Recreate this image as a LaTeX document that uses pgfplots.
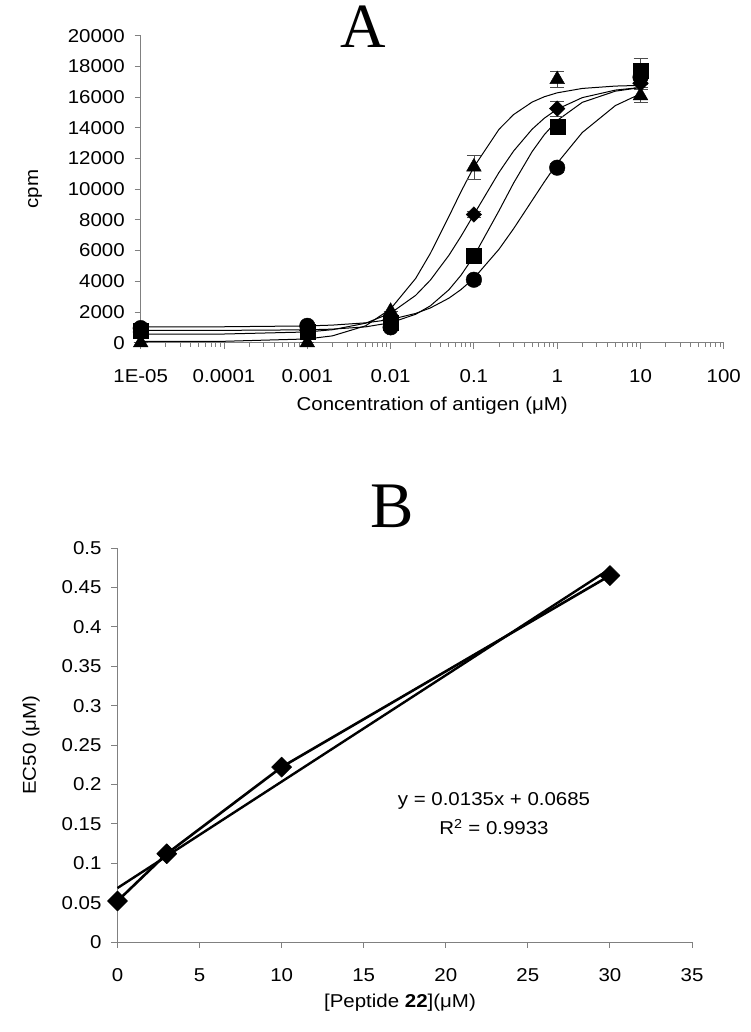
\documentclass[border=0pt]{standalone}
\usepackage{pgfplots}
\pgfplotsset{compat=1.18}
\usepackage{fontspec}
\setmainfont{Liberation Sans}[FakeStretch=1.1]
\newfontfamily\titlefont{Liberation Serif}

\pgfplotsset{
  excel/.style={
    scale only axis, clip=false,
    axis lines*=left,
    axis line style={gray, line width=0.9pt},
    tick style={gray, line width=0.9pt},
    tick align=outside,
    major tick length=6pt, minor tick length=4pt,
    tick label style={font=\fontsize{18.6}{22}\selectfont, black},
    xticklabel style={yshift=-17pt},
    yticklabel style={xshift=-6.5pt},
    label style={font=\fontsize{18.6}{22}\selectfont},
    /pgf/number format/assume math mode=true,
  },
  curve/.style={black, line width=1pt, no marks},
  pts/.style={black, only marks,
    error bars/y dir=both, error bars/y explicit,
    error bars/error bar style={black!70, line width=0.8pt},
    error bars/error mark options={rotate=90, black!70, line width=0.8pt, mark size=7pt}},
}

\begin{document}
\begin{tikzpicture}
\path (0pt,0pt) rectangle (750pt,1032pt);

% panel A
\node[font=\titlefont\fontsize{63}{70}\selectfont, anchor=base, inner sep=0pt] at (363pt,984.5pt) {A};
\begin{axis}[excel,
  at={(140.7pt,689.3pt)}, anchor=south west,
  width=583.1pt, height=307pt,
  xmode=log, xmin=1e-5, xmax=100, ymin=0, ymax=20000,
  xtick={1e-5,1e-4,0.001,0.01,0.1,1,10,100},
  xticklabels={1E-05,0.0001,0.001,0.01,0.1,1,10,100},
  ytick={0,2000,...,20000},
  scaled y ticks=false,
  yticklabel style={/pgf/number format/.cd, fixed, 1000 sep={}},
  xlabel={Concentration of antigen (μM)},
  xlabel style={at={(axis description cs:0.5,-0.2225)}, anchor=base, inner sep=0pt},
  ylabel={cpm},
  ylabel style={at={(axis description cs:-0.1813,0.5)}, anchor=center, inner sep=0pt},
]
% fitted curves
\addplot[curve] coordinates {
  (1e-5,81) (1e-4,91) (0.001,244) (0.002,444) (0.005,1097) (0.01,2200)
  (0.02,4186) (0.03,5815) (0.05,8211) (0.07,9840) (0.1,11446) (0.2,13899)
  (0.3,14864) (0.5,15675) (0.7,16022) (1,16278) (2,16563) (5,16718) (10,16763)};
\addplot[curve] coordinates {
  (1e-5,551) (1e-4,565) (0.001,699) (0.002,845) (0.005,1267) (0.01,1924)
  (0.02,3083) (0.03,4075) (0.05,5683) (0.07,6930) (0.1,8351) (0.2,11092)
  (0.3,12490) (0.5,13908) (0.7,14623) (1,15213) (2,15965) (5,16456) (10,16626)};
\addplot[curve] coordinates {
  (1e-5,800) (1e-4,803) (0.001,838) (0.002,883) (0.005,1031) (0.01,1298)
  (0.02,1851) (0.03,2399) (0.05,3443) (0.07,4393) (0.1,5637) (0.2,8594)
  (0.3,10404) (0.5,12447) (0.7,13550) (1,14476) (2,15657) (5,16387) (10,16619)};
\addplot[curve] coordinates {
  (1e-5,1031) (1e-4,1038) (0.001,1092) (0.002,1146) (0.005,1292) (0.01,1511)
  (0.02,1906) (0.03,2262) (0.05,2897) (0.07,3460) (0.1,4198) (0.2,6085)
  (0.3,7430) (0.5,9264) (0.7,10472) (1,11694) (2,13691) (5,15449) (10,16213)};
% data points
\addplot[pts, mark=*, mark size=7.8pt] coordinates {
  (1e-5,950) +- (0,0) (0.001,1100) +- (0,0) (0.01,1000) +- (0,0)
  (0.1,4100) +- (0,300) (1,11400) +- (0,300) (10,17300) +- (0,500)};
\addplot[pts, mark=square*, mark size=7.5pt] coordinates {
  (1e-5,800) +- (0,0) (0.001,700) +- (0,0) (0.01,1300) +- (0,0)
  (0.1,5650) +- (0,200) (1,14100) +- (0,300) (10,17700) +- (0,850)};
\addplot[pts, mark=square*, mark size=5.5pt, mark options={rotate=45}] coordinates {
  (1e-5,700) +- (0,0) (0.001,800) +- (0,0) (0.01,1500) +- (0,0)
  (0.1,8350) +- (0,200) (1,15250) +- (0,480) (10,16900) +- (0,300)};
\addplot[pts, mark=triangle*, mark size=8.5pt] coordinates {
  (1e-5,0) +- (0,0) (0.001,0) +- (0,0) (0.01,2050) +- (0,0)
  (0.1,11450) +- (0,780) (1,17150) +- (0,540) (10,16100) +- (0,430)};
\end{axis}

% panel B
\node[font=\titlefont\fontsize{65}{72}\selectfont, anchor=base, inner sep=0pt] at (392.5pt,504.7pt) {B};
\begin{axis}[excel,
  at={(117.5pt,90pt)}, anchor=south west,
  width=574.5pt, height=394pt,
  xmin=0, xmax=35, ymin=0, ymax=0.5,
  xtick={0,5,...,35},
  ytick={0,0.05,0.1,0.15,0.2,0.25,0.3,0.35,0.4,0.45,0.5},
  yticklabel style={/pgf/number format/.cd, fixed, precision=2},
  xlabel={[Peptide \textbf{22}](μM)},
  xlabel style={at={(axis description cs:0.4917,-0.165)}, anchor=base, inner sep=0pt},
  ylabel={EC50 (μM)},
  ylabel style={at={(axis description cs:-0.1506,0.5)}, anchor=center, inner sep=0pt},
]
\addplot[black, line width=2.4pt, no marks] coordinates {(0,0.0685) (30,0.4735)};
\addplot[black, line width=2.6pt, line join=round, mark=square*, mark size=7.1pt,
  mark options={rotate=45, solid, fill=black, line width=0.5pt}]
  coordinates {(0,0.052) (3,0.112) (10,0.222) (30,0.465)};
\node[anchor=base, inner sep=0pt, font=\fontsize{18.6}{22}\selectfont]
  at (rel axis cs:0.6554,0.3477) {y = 0.0135x + 0.0685};
\node[anchor=base, inner sep=0pt, font=\fontsize{18.6}{22}\selectfont]
  at (rel axis cs:0.6554,0.2716) {R\textsuperscript{2} = 0.9933};
\end{axis}
\end{tikzpicture}
\end{document}
